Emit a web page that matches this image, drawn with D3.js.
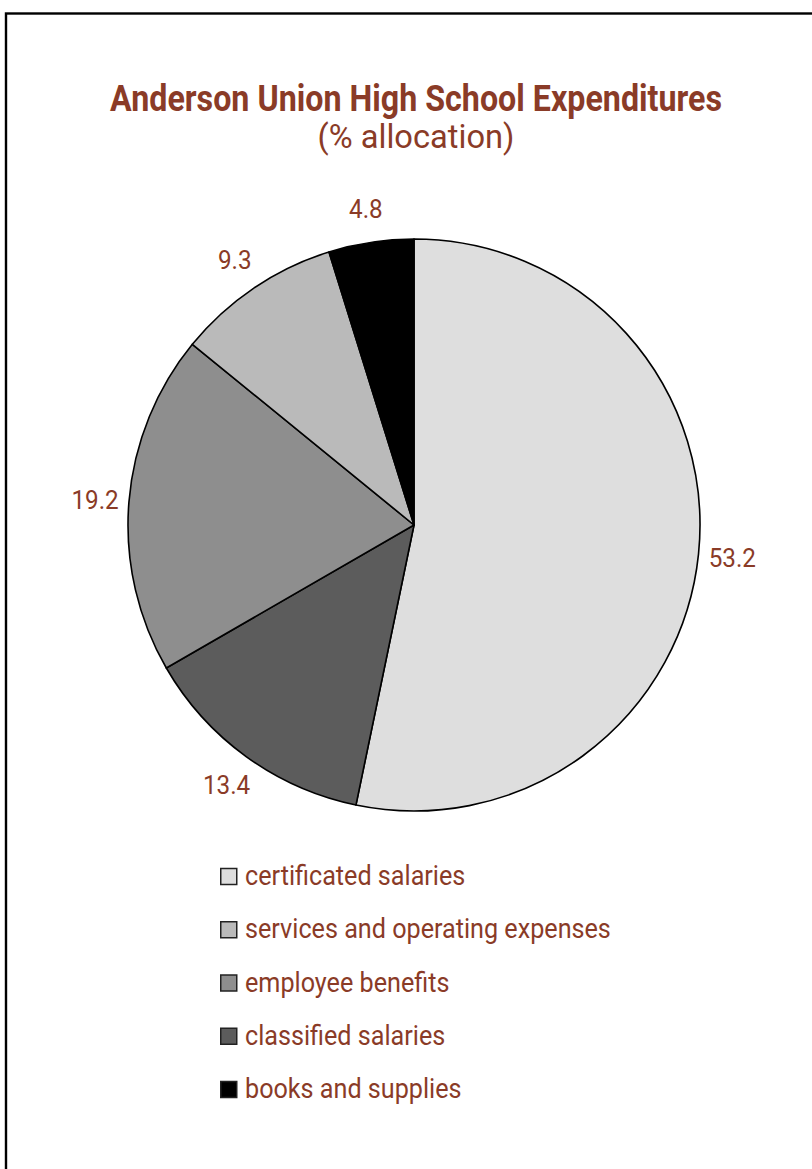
<!DOCTYPE html>
<html>
<head>
<meta charset="utf-8">
<script src="https://cdn.jsdelivr.net/npm/d3@7"></script>
<style>
  html, body { margin: 0; padding: 0; background: #fff; }
  #chart { width: 812px; height: 1169px; }
</style>
</head>
<body>
<div id="chart"></div>
<script>
// data, in pie order (clockwise from 12 o'clock)
var categories = ["certificated salaries", "classified salaries", "employee benefits",
    "services and operating expenses", "books and supplies"];
var values = [53.2, 13.4, 19.2, 9.3, 4.8];
var fills = ["#dedede", "#5c5c5c", "#8e8e8e", "#bababa", "#000000"];
// legend order differs from pie order
var legendOrder = ["certificated salaries", "services and operating expenses",
    "employee benefits", "classified salaries", "books and supplies"];

var title = "Anderson Union High School Expenditures";
var subtitle = "(% allocation)";

var brown = "#8a3b27";
var font = "Roboto, 'Liberation Sans', sans-serif";

var width = 812, height = 1169;
var cx = 414, cy = 525, radius = 286, labelRadius = 320;

var svg = d3.select("#chart")
    .append("svg")
    .attr("width", width)
    .attr("height", height);

// squeeze a centred/left text horizontally around its own x so it takes w pixels
function squeeze(sel, x, y, w) {
    var node = sel.node();
    var k = w / node.getComputedTextLength();
    sel.attr("x", 0).attr("y", 0)
        .attr("transform", "translate(" + x + "," + y + ") scale(" + k + ",1)");
    return k;
}

// frame (runs off the right and bottom edge)
svg.append("rect")
    .attr("x", 6)
    .attr("y", 13.5)
    .attr("width", width + 20)
    .attr("height", height + 20)
    .attr("fill", "none")
    .attr("stroke", "#000")
    .attr("stroke-width", 2.4);

// titles
var t1 = svg.append("text")
    .attr("text-anchor", "middle")
    .attr("font-family", font)
    .attr("font-weight", "bold")
    .attr("font-size", 37)
    .attr("fill", brown)
    .text(title);
squeeze(t1, 416, 111, 612);

var t2 = svg.append("text")
    .attr("text-anchor", "middle")
    .attr("font-family", font)
    .attr("font-size", 33)
    .attr("fill", brown)
    .text(subtitle);
squeeze(t2, 416, 148, 197);

var data = categories.map(function (c, i) {
    return { name: c, value: values[i], fill: fills[i] };
});

var pie = d3.pie()
    .sort(null)
    .value(function (d) { return d.value; });

var arc = d3.arc()
    .innerRadius(0)
    .outerRadius(radius);

var labelArc = d3.arc()
    .innerRadius(labelRadius)
    .outerRadius(labelRadius);

var color = d3.scaleOrdinal()
    .domain(categories)
    .range(fills);

var pieG = svg.append("g")
    .attr("transform", "translate(" + cx + "," + cy + ")");

pieG.selectAll("path")
    .data(pie(data))
    .enter()
    .append("path")
    .attr("d", arc)
    .attr("fill", function (d) { return color(d.data.name); })
    .attr("stroke", "#000")
    .attr("stroke-width", 1.6)
    .attr("stroke-linejoin", "round");

var labels = pieG.selectAll("text")
    .data(pie(data))
    .enter()
    .append("text")
    .attr("text-anchor", "middle")
    .attr("dy", "0.36em")
    .attr("font-family", font)
    .attr("font-size", 26)
    .attr("fill", brown)
    .text(function (d) { return d.data.value.toFixed(1); });

// legend
var legendY = d3.scalePoint()
    .domain(legendOrder)
    .range([885, 1098]);

var rows = svg.append("g")
    .selectAll("g")
    .data(legendOrder)
    .enter()
    .append("g")
    .attr("transform", function (d) { return "translate(220," + legendY(d) + ")"; });

rows.append("rect")
    .attr("x", 0.75)
    .attr("y", -16.5)
    .attr("width", 16)
    .attr("height", 16)
    .attr("fill", function (d) { return color(d); })
    .attr("stroke", "#222")
    .attr("stroke-width", 1.5);

var legendText = rows.append("text")
    .attr("font-family", font)
    .attr("font-size", 27)
    .attr("fill", brown)
    .text(function (d) { return d; });

// the original face is condensed: take the scale from the longest entry
var k = squeeze(legendText.filter(function (d) { return d === "services and operating expenses"; }), 25, 0, 366);
legendText.attr("x", 0).attr("y", 0)
    .attr("transform", "translate(25,0) scale(" + k + ",1)");
labels.attr("transform", function (d) {
    return "translate(" + labelArc.centroid(d) + ") scale(" + k + ",1)";
});
</script>
</body>
</html>
